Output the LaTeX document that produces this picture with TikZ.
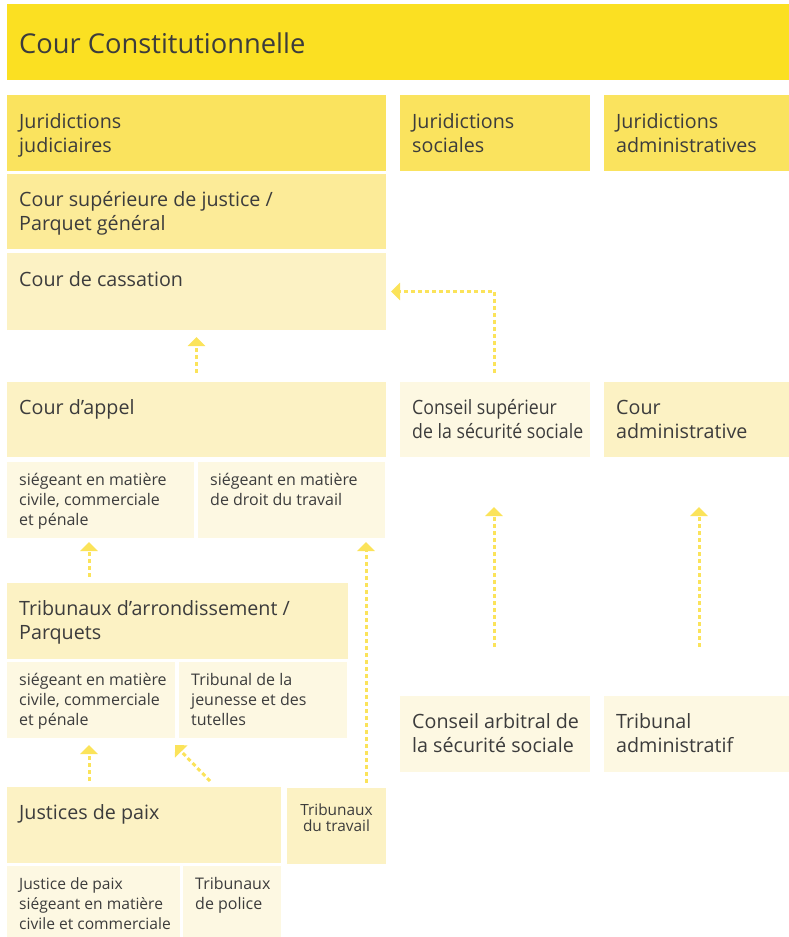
\documentclass[tikz,border=0pt]{standalone}
\usepackage{fontspec}
\setmainfont{Open Sans}
\usetikzlibrary{arrows.meta}
\definecolor{ctitle}{HTML}{FBE022}
\definecolor{chead}{HTML}{FAE35E}
\definecolor{csup}{HTML}{FCEB98}
\definecolor{cmid}{HTML}{FCF2C4}
\definecolor{clight}{HTML}{FDF8E2}
\definecolor{carrow}{HTML}{FBE35A}
\definecolor{ink}{HTML}{3C3C3C}
\newcommand\bst{\rule{0pt}{20pt}}
\newcommand\sst{\rule{0pt}{16pt}}
\newcommand\tst{\rule{0pt}{30pt}}
\newcommand\jbox[6]{\node[boxshape, fill=#6, minimum width={(#4-#2)*1pt}, minimum height={(#5-#3)*1pt}] (#1) at (#2,#3) {};}
\tikzset{
  boxshape/.style={anchor=north west, inner sep=0pt, outer sep=0pt, draw=none},
  bigtxt/.style={font=\fontsize{19.7}{24.5}\selectfont, text=ink, anchor=north west, inner sep=0pt, align=left},
  smalltxt/.style={font=\fontsize{16}{20}\selectfont, text=ink, anchor=north west, inner sep=0pt, align=left},
  titletxt/.style={font=\fontsize{27.3}{32}\selectfont, text=ink, anchor=north west, inner sep=0pt, align=left},
  arr/.style={draw=carrow, line width=3pt, dash pattern=on 4pt off 3pt, -{Triangle[width=17pt,length=9pt]}}
}
\begin{document}
\begin{tikzpicture}[x=1pt,y=-1pt]
\useasboundingbox (0,0) rectangle (789,937);
% boxes
\jbox{title}{7}{4}{789}{80}{ctitle}
\jbox{jj}{7}{95}{386}{171}{chead}
\jbox{js}{400}{95}{590}{171}{chead}
\jbox{ja}{604}{95}{789}{171}{chead}
\jbox{csj}{7}{174}{386}{249}{csup}
\jbox{cass}{7}{253}{386}{330}{cmid}
\jbox{appel}{7}{382}{386}{457}{cmid}
\jbox{cs}{400}{382}{590}{457}{clight}
\jbox{cadm}{604}{382}{789}{457}{cmid}
\jbox{caa}{7}{462}{194}{538}{clight}
\jbox{cab}{198}{462}{385}{538}{clight}
\jbox{tarr}{7}{583}{348}{659}{cmid}
\jbox{taa}{7}{662}{175}{738}{clight}
\jbox{tab}{179}{662}{347}{738}{clight}
\jbox{jp}{7}{787}{281}{863}{cmid}
\jbox{ttrav}{287}{788}{386}{864}{cmid}
\jbox{jpa}{7}{866}{180}{937}{clight}
\jbox{jpb}{183}{866}{281}{937}{clight}
\jbox{cas}{400}{696}{590}{772}{clight}
\jbox{tadm}{604}{696}{789}{772}{clight}
% texts
\node[titletxt] (titlet) at ([shift={(12pt,-19pt)}]title.north west) {\tst Cour Constitutionnelle};
\node[bigtxt] (jjt) at ([shift={(12pt,-13pt)}]jj.north west) {\bst Juridictions\\judiciaires};
\node[bigtxt] (jst) at ([shift={(12pt,-13pt)}]js.north west) {\bst Juridictions\\sociales};
\node[bigtxt] (jat) at ([shift={(12pt,-13pt)}]ja.north west) {\bst Juridictions\\administratives};
\node[bigtxt] (csjt) at ([shift={(12pt,-12pt)}]csj.north west) {\bst Cour supérieure de justice /\\Parquet général};
\node[bigtxt] (casst) at ([shift={(12pt,-13pt)}]cass.north west) {\bst Cour de cassation};
\node[bigtxt] (appelt) at ([shift={(12pt,-12pt)}]appel.north west) {\bst Cour d’appel};
\node[bigtxt, font=\fontsize{19.7}{24.5}\selectfont\addfontfeature{FakeStretch=0.9}] (cst) at ([shift={(12pt,-12pt)}]cs.north west) {\bst Conseil supérieur\\de la sécurité sociale};
\node[bigtxt] (cadmt) at ([shift={(12pt,-12pt)}]cadm.north west) {\bst Cour\\administrative};
\node[smalltxt] (caat) at ([shift={(12pt,-7pt)}]caa.north west) {\sst siégeant en matière\\civile, commerciale\\et pénale};
\node[smalltxt] (cabt) at ([shift={(12pt,-7pt)}]cab.north west) {\sst siégeant en matière\\de droit du travail};
\node[bigtxt] (tarrt) at ([shift={(12pt,-12pt)}]tarr.north west) {\bst Tribunaux d’arrondissement /\\Parquets};
\node[smalltxt] (taat) at ([shift={(12pt,-7pt)}]taa.north west) {\sst siégeant en matière\\civile, commerciale\\et pénale};
\node[smalltxt] (tabt) at ([shift={(12pt,-7pt)}]tab.north west) {\sst Tribunal de la\\jeunesse et des\\tutelles};
\node[bigtxt] (jpt) at ([shift={(12pt,-12pt)}]jp.north west) {\bst Justices de paix};
\node[smalltxt, font=\fontsize{15.4}{16}\selectfont, anchor=north, align=center] (ttravt) at ([yshift=-11pt]ttrav.north) {\sst Tribunaux\\du travail};
\node[smalltxt, font=\fontsize{15.6}{20}\selectfont] (jpat) at ([shift={(12pt,-7pt)}]jpa.north west) {\sst Justice de paix\\siégeant en matière\\civile et commerciale};
\node[smalltxt] (jpbt) at ([shift={(12pt,-7pt)}]jpb.north west) {\sst Tribunaux\\de police};
\node[bigtxt] (cast) at ([shift={(12pt,-12pt)}]cas.north west) {\bst Conseil arbitral de\\la sécurité sociale};
\node[bigtxt] (tadmt) at ([shift={(12pt,-12pt)}]tadm.north west) {\bst Tribunal\\administratif};
% arrows
\draw[arr, shorten <=9pt, shorten >=7pt] (appel.north) -- (cass.south);
\draw[arr, shorten <=9pt, shorten >=5pt] ([xshift=-1pt]cs.north) |- (cass.east);
\draw[arr, shorten <=6pt, shorten >=4pt] ([xshift=82pt]tarr.north west) -- ([xshift=82pt]caa.south west);
\draw[arr, shorten <=5pt, shorten >=4pt] ([xshift=79pt]ttrav.north west) -- ([xshift=168pt]cab.south west);
\draw[arr, shorten <=6pt, shorten >=7pt] ([xshift=82pt]jp.north west) -- ([xshift=82pt]taa.south west);
\draw[arr] ([shift={(203pt,6pt)}]jp.north west) -- ([shift={(-4pt,-7pt)}]tab.south west);
\draw[arr, shorten <=49pt, shorten >=50pt] ([xshift=-1pt]cas.north) -- ([xshift=-1pt]cs.south);
\draw[arr, shorten <=49pt, shorten >=50pt] ([xshift=2.5pt]tadm.north) -- ([xshift=2.5pt]cadm.south);
\end{tikzpicture}
\end{document}
